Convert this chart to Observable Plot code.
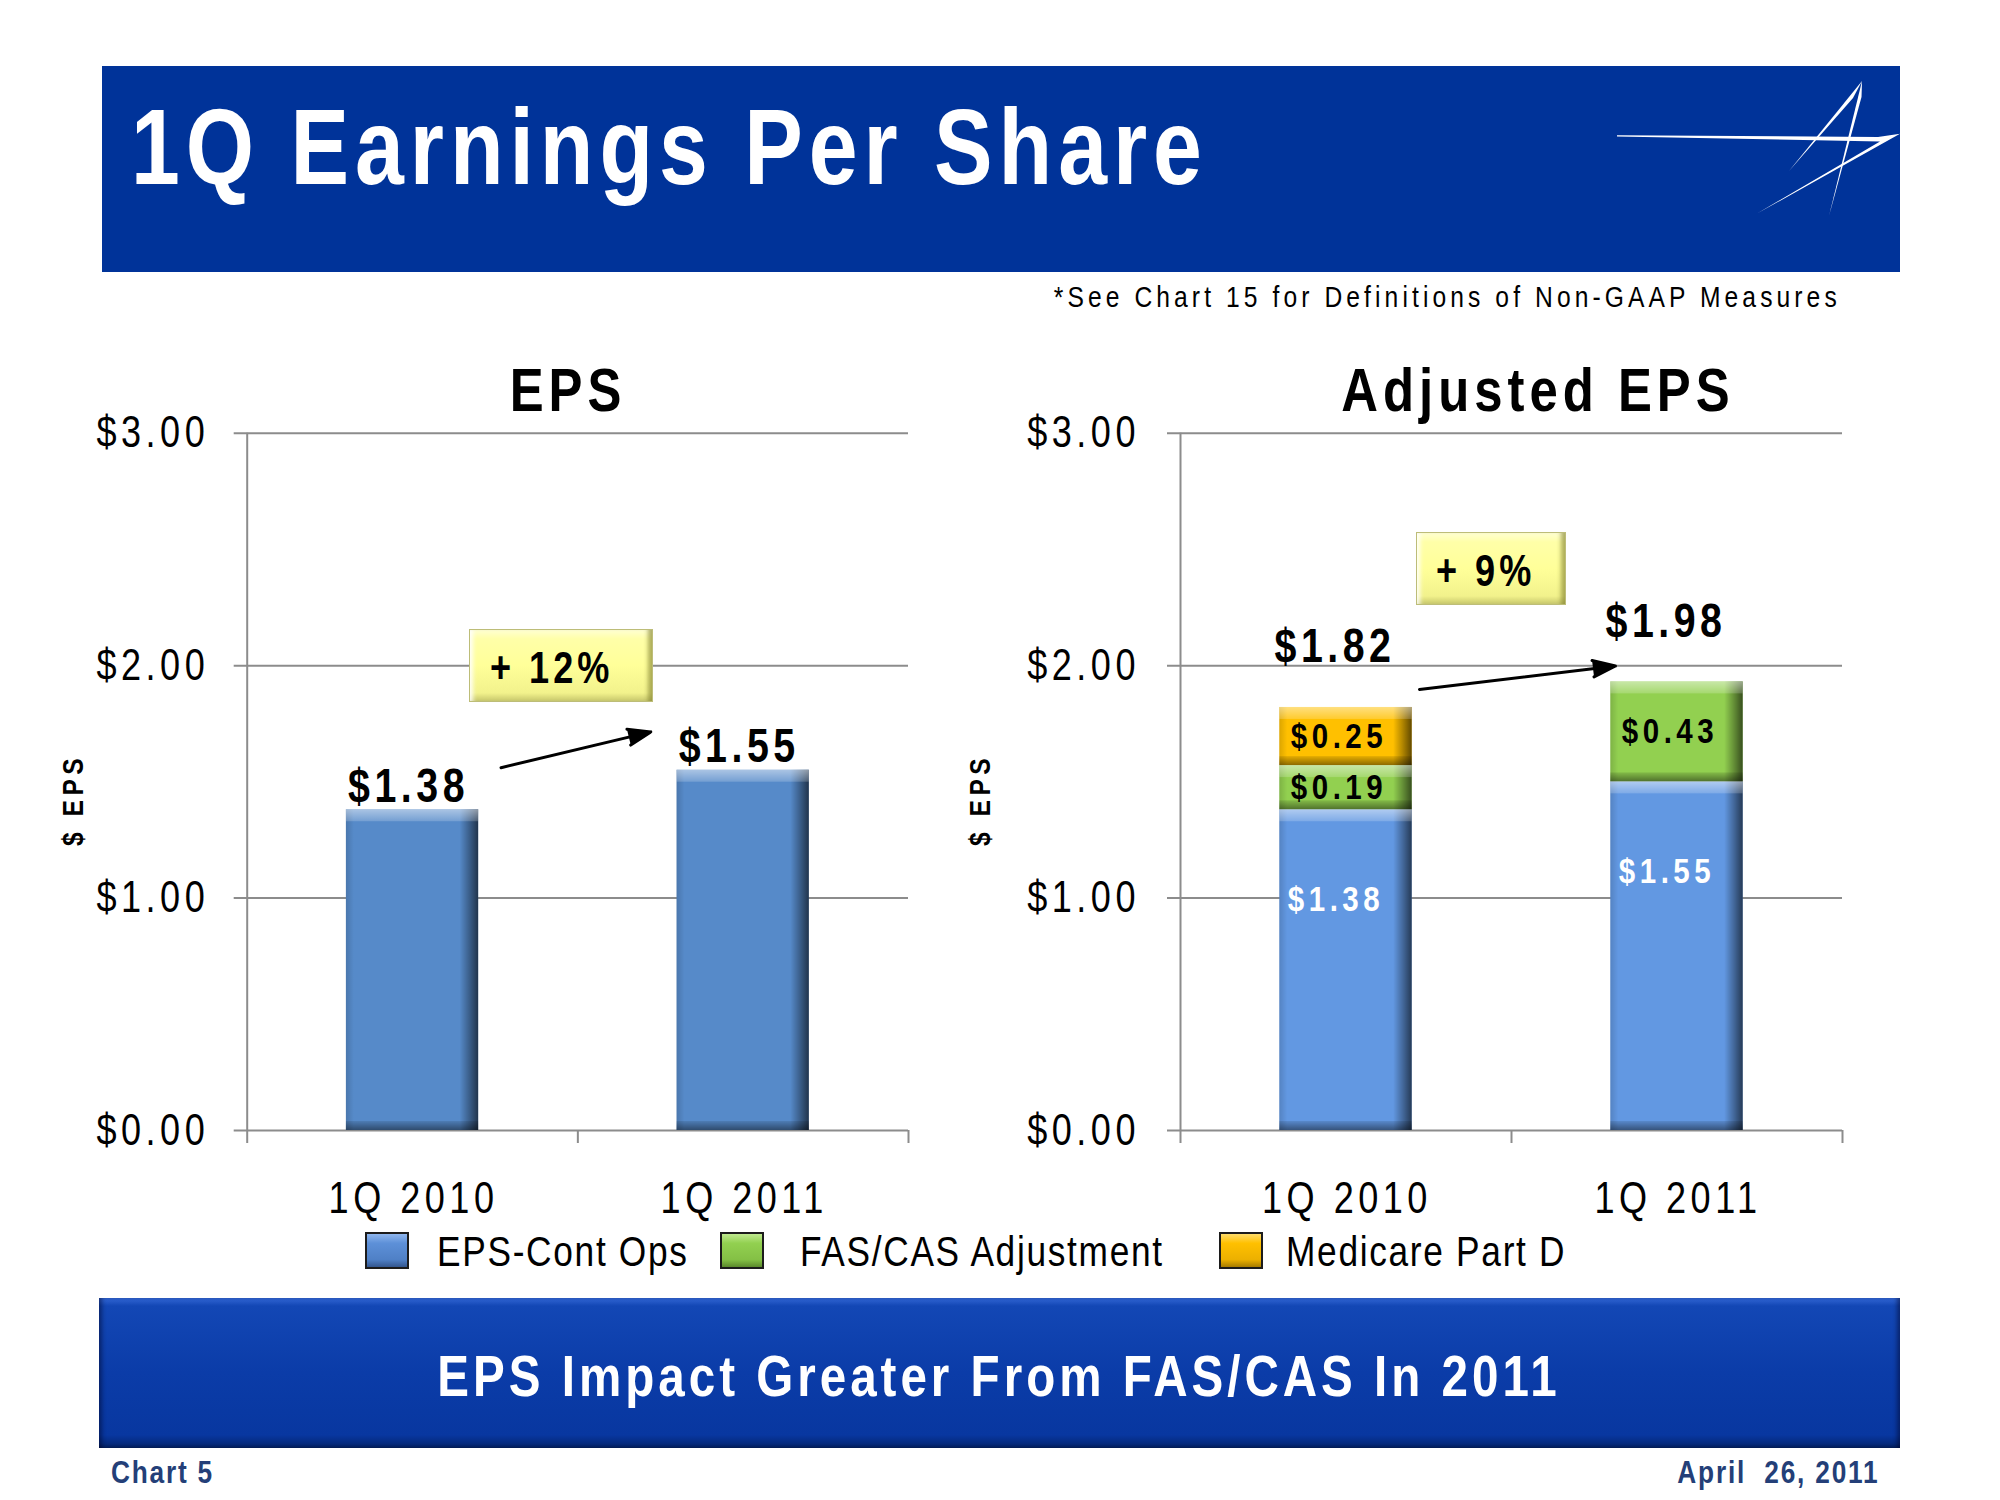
<!DOCTYPE html>
<html>
<head>
<meta charset="utf-8">
<script src="https://cdn.jsdelivr.net/npm/d3@7"></script>
<script src="https://cdn.jsdelivr.net/npm/@observablehq/plot@0.6"></script>
<style>
html,body{margin:0;padding:0;background:#fff;}
#page{position:relative;width:2000px;height:1500px;overflow:hidden;background:#fff;
 font-family:"Liberation Sans",Arial,sans-serif;}
.t{position:absolute;white-space:pre;line-height:1;}
.chart{position:absolute;}
.swatch{position:absolute;width:40px;height:33px;border:2px solid #1c1c1c;}
.box{position:absolute;box-sizing:border-box;border:1px solid #bdbd78;
 background:linear-gradient(#ffffd2 0,#ffffa8 9px,#ffff99 50%,#f2f28c calc(100% - 8px),#c8c86c 100%);
 box-shadow:inset -7px 0 4px -3px rgba(120,120,40,0.6), inset 6px 0 4px -3px rgba(255,255,255,0.9);}
</style>
</head>
<body>
<div id="page">
 <svg width="0" height="0" style="position:absolute;left:0;top:0">
  <defs>
   <linearGradient id="shadeH" x1="0" x2="1" y1="0" y2="0">
    <stop offset="0" stop-color="#000" stop-opacity="0.14"/>
    <stop offset="0.06" stop-color="#000" stop-opacity="0"/>
    <stop offset="0.86" stop-color="#000" stop-opacity="0"/>
    <stop offset="0.93" stop-color="#000" stop-opacity="0.3"/>
    <stop offset="1" stop-color="#000" stop-opacity="0.62"/>
   </linearGradient>
   <linearGradient id="shadeTop" x1="0" x2="0" y1="0" y2="1">
    <stop offset="0" stop-color="#fff" stop-opacity="0.5"/>
    <stop offset="1" stop-color="#fff" stop-opacity="0.18"/>
   </linearGradient>
   <linearGradient id="shadeBottom" x1="0" x2="0" y1="0" y2="1">
    <stop offset="0" stop-color="#000" stop-opacity="0.1"/>
    <stop offset="1" stop-color="#000" stop-opacity="0.45"/>
   </linearGradient>
  </defs>
 </svg>
 <div style="position:absolute;left:102px;top:66px;width:1798px;height:206px;background:#003399"></div>
 <svg width="2000" height="300" style="position:absolute;left:0;top:0">
  <polygon fill="#fff" points="1617,135.2 1878,137 1900,133.8 1757,213.6 1880,141.5 1617,136.4"/>
  <polygon fill="#fff" points="1862,81 1853,98 1789,171"/>
  <polygon fill="#fff" points="1862,81 1861.5,97 1829,216"/>
 </svg>
 <div style="position:absolute;left:99px;top:1298px;width:1801px;height:150px;
  background:linear-gradient(#3266d4 0,#1347b5 8px,#0b3ca8 50%,#0837a0 calc(100% - 13px),#052b80 calc(100% - 5px),#041f5e 100%);
  box-shadow:inset 5px 0 4px -2px rgba(0,0,30,0.45), inset -5px 0 4px -2px rgba(0,0,30,0.45);"></div>
</div>
<script>
// ---------- data ----------
const quarters = ["1Q 2010", "1Q 2011"];
const epsValues = [1.38, 1.55];
const epsLabels = ["$1.38", "$1.55"];
const seriesNames = ["EPS-Cont Ops", "FAS/CAS Adjustment", "Medicare Part D"];
const adjContOps = [1.38, 1.50];
const adjFasCas = [0.19, 0.43];
const adjMedicare = [0.25, 0];
const adjSegLabels = [["$1.38", "$0.19", "$0.25"], ["$1.55", "$0.43", ""]];
const adjTotalLabels = ["$1.82", "$1.98"];
const growthLabels = ["+ 12%", "+ 9%"];
const yTicks = [0, 1, 2, 3];
const yTickLabels = ["$0.00", "$1.00", "$2.00", "$3.00"];

// ---------- derived tables ----------
const epsRows = quarters.map((q, i) => ({q, s: 0, y1: 0, y2: epsValues[i], label: epsLabels[i]}));
const adjRows = [];
quarters.forEach((q, i) => {
  let base = 0;
  [adjContOps[i], adjFasCas[i], adjMedicare[i]].forEach((v, s) => {
    if (v > 0) adjRows.push({q, s, series: seriesNames[s], y1: base, y2: base + v, label: adjSegLabels[i][s]});
    base += v;
  });
});
const adjTotals = quarters.map((q, i) => ({q, top: adjContOps[i] + adjFasCas[i] + adjMedicare[i], label: adjTotalLabels[i]}));

const FONT = '"Liberation Sans",Arial,sans-serif';
const NARROW = 0.82; // condensed rendering (Arial Narrow look)
const GRID = "#8c8c8c";
const epsColor = "#568ac9";
const adjColors = ["#6298e2", "#92d050", "#ffc000"];
const page = document.getElementById("page");

function addText(txt, o) {
  const d = document.createElement("div");
  d.className = "t";
  d.textContent = txt;
  const ls = o.ls || 0;
  Object.assign(d.style, {
    fontSize: o.size + "px", fontWeight: o.weight || "normal", color: o.color || "#000",
    letterSpacing: (ls / NARROW) + "px", top: (o.baseline - 0.8465 * o.size) + "px"
  });
  if (o.anchor === "middle") {
    d.style.left = (o.x + ls / 2) + "px";
    d.style.transformOrigin = "50% 50%";
    d.style.transform = `translateX(-50%) scaleX(${NARROW})`;
  } else if (o.anchor === "end") {
    d.style.right = (2000 - o.x - ls) + "px";
    d.style.transformOrigin = "100% 50%";
    d.style.transform = `scaleX(${NARROW})`;
  } else {
    d.style.left = o.x + "px";
    d.style.transformOrigin = "0 50%";
    d.style.transform = `scaleX(${NARROW})`;
  }
  page.appendChild(d);
  return d;
}

function condenseSvgText(svg) {
  svg.querySelectorAll("text").forEach(t => {
    const tr = t.getAttribute("transform");
    if (tr) t.setAttribute("transform", tr + ` scale(${NARROW},1)`);
    else {
      const x = parseFloat(t.getAttribute("x")) || 0;
      t.setAttribute("transform", `translate(${x},0) scale(${NARROW},1) translate(${-x},0)`);
    }
  });
}

function bevelBars(rows, fillOf) {
  return [
    Plot.barY(rows, {x: "q", y1: "y1", y2: "y2", fill: fillOf}),
    Plot.barY(rows, {x: "q", y1: "y1", y2: "y2", fill: "url(#shadeH)"}),
    Plot.barY(rows, {x: "q", y1: "y2", y2: "y2", insetBottom: -12, fill: "url(#shadeTop)"}),
    Plot.barY(rows, {x: "q", y1: "y1", y2: "y1", insetTop: -9, fill: "url(#shadeBottom)"})
  ];
}

function buildChart({left, ml, mr, barMarks, textMarks, arrowRows, insetStart, insetEnd, yLabelDx, tickDx}) {
  const width = 960, height = 860, top = 380, mt = 52.7, mb = 110;
  const step = (width - ml - mr) / quarters.length;
  const svg = Plot.plot({
    width, height, marginLeft: ml, marginRight: mr, marginTop: mt, marginBottom: mb,
    style: {fontFamily: FONT, background: "transparent", overflow: "visible", letterSpacing: (4.5 / NARROW) + "px", color: "#000"},
    x: {type: "band", domain: quarters, paddingInner: 0.6, paddingOuter: 0.3, round: false, axis: null},
    y: {domain: [0, 3], axis: null},
    color: {type: "identity"},
    marks: [
      Plot.ruleY(yTicks, {y: d => d, stroke: GRID, strokeWidth: 2, insetLeft: -13}),
      ...barMarks,
      Plot.ruleX([quarters[0]], {x: d => d, dx: -step / 2, y1: 3, y2: 0, insetBottom: -13, stroke: GRID, strokeWidth: 2}),
      Plot.ruleX(quarters.slice(1), {x: d => d, dx: -step / 2, y1: 0, y2: 0, insetBottom: -13, stroke: GRID, strokeWidth: 2}),
      Plot.ruleX(quarters.slice(-1), {x: d => d, dx: step / 2, y1: 0, y2: 0, insetBottom: -13, stroke: GRID, strokeWidth: 2}),
      Plot.text(yTicks, {y: d => d, text: (d, i) => yTickLabels[i], frameAnchor: "left", textAnchor: "end", dx: tickDx, fontSize: 44, lineAnchor: "middle"}),
      Plot.text(quarters, {x: d => d, y: 0, text: d => d, dy: 68, dx: 1, fontSize: 44, lineAnchor: "middle"}),
      Plot.text(["$ EPS"], {text: d => d, frameAnchor: "left", textAnchor: "middle", dx: yLabelDx, dy: 18, rotate: -90, fontSize: 30, fontWeight: "bold", lineAnchor: "middle"}),
      ...textMarks,
      Plot.arrow(arrowRows, {x1: "from", y1: "y1", x2: "to", y2: "y2", insetStart, insetEnd, stroke: "#000", fill: "#000", strokeWidth: 3, headLength: 12, headAngle: 40})
    ]
  });
  condenseSvgText(svg);
  const wrap = document.createElement("div");
  wrap.className = "chart";
  wrap.style.left = left + "px";
  wrap.style.top = top + "px";
  wrap.appendChild(svg);
  page.appendChild(wrap);
}

// Left chart: EPS
buildChart({
  left: 0, ml: 246.7, mr: 52,
  barMarks: bevelBars(epsRows, epsColor),
  textMarks: [
    Plot.text(epsRows, {x: "q", y: "y2", text: "label", lineAnchor: "bottom", dy: -8, dx: -4, fontSize: 48, fontWeight: "bold"})
  ],
  arrowRows: [{from: quarters[0], to: quarters[1], y1: epsValues[0] + 0.09, y2: epsValues[1] + 0.26}],
  insetStart: 91, insetEnd: 95, yLabelDx: -173.7, tickDx: -38
});

// Right chart: Adjusted EPS
buildChart({
  left: 960, ml: 220, mr: 78,
  barMarks: bevelBars(adjRows, d => adjColors[d.s]),
  textMarks: [
    Plot.text(adjRows.filter(r => r.s === 0), {x: "q", y: "y2", text: "label", dy: 90, dx: -10, fontSize: 36, fontWeight: "bold", fill: "#fff", lineAnchor: "middle"}),
    Plot.text(adjRows.filter(r => r.s > 0), {x: "q", y: d => (d.y1 + d.y2) / 2, text: "label", dx: -7, fontSize: 36, fontWeight: "bold", fill: "#000", lineAnchor: "middle"}),
    Plot.text(adjTotals, {x: "q", y: "top", text: "label", lineAnchor: "bottom", dy: -45, dx: -11, fontSize: 48, fontWeight: "bold"})
  ],
  arrowRows: [{from: quarters[0], to: quarters[1], y1: adjTotals[0].top + 0.04, y2: adjTotals[1].top + 0.10}],
  insetStart: 74, insetEnd: 62, yLabelDx: -200, tickDx: -40.5
});

// Header & texts
addText("1Q Earnings Per Share", {x: 131, baseline: 185, size: 107, weight: "bold", color: "#fff", ls: 6});
addText("*See Chart 15 for Definitions of Non-GAAP Measures", {x: 1837, baseline: 307, size: 30, ls: 4.1, anchor: "end"});
addText("EPS", {x: 565, baseline: 411, size: 62, weight: "bold", ls: 5, anchor: "middle"});
addText("Adjusted EPS", {x: 1535, baseline: 411, size: 62, weight: "bold", ls: 5, anchor: "middle"});

// Growth boxes
function addBox(txt, l, t, w, h, tx, base) {
  const b = document.createElement("div");
  b.className = "box";
  Object.assign(b.style, {left: l + "px", top: t + "px", width: w + "px", height: h + "px"});
  page.appendChild(b);
  addText(txt, {x: tx, baseline: base, size: 44, weight: "bold", ls: 4});
}
addBox(growthLabels[0], 469, 629, 184, 73, 490, 683);
addBox(growthLabels[1], 1416, 532, 150, 73, 1436, 586);

// Legend
const swatchBg = [
  "linear-gradient(#8fb6ee 0,#5d90d8 28%,#4f80c6 78%,#33568e 100%)",
  "linear-gradient(#bfe98f 0,#92d050 28%,#84c045 78%,#5b8a2c 100%)",
  "linear-gradient(#ffdc6a 0,#ffc000 28%,#ecb000 78%,#a77c00 100%)"
];
const swatchX = [365, 720, 1219];
const legendTextX = [437, 800, 1286];
seriesNames.forEach((name, i) => {
  const s = document.createElement("div");
  s.className = "swatch";
  Object.assign(s.style, {left: swatchX[i] + "px", top: "1232px", background: swatchBg[i]});
  page.appendChild(s);
  addText(name, {x: legendTextX[i], baseline: 1266, size: 43, ls: 1.7});
});

// Banner & footer
addText("EPS Impact Greater From FAS/CAS In 2011", {x: 997, baseline: 1396, size: 58, weight: "bold", color: "#fff", ls: 4, anchor: "middle"});
addText("Chart 5", {x: 111, baseline: 1483, size: 32, weight: "bold", color: "#243f78", ls: 1.8});
addText("April  26, 2011", {x: 1878, baseline: 1483, size: 32, weight: "bold", color: "#243f78", ls: 1.8, anchor: "end"});
</script>
</body>
</html>
